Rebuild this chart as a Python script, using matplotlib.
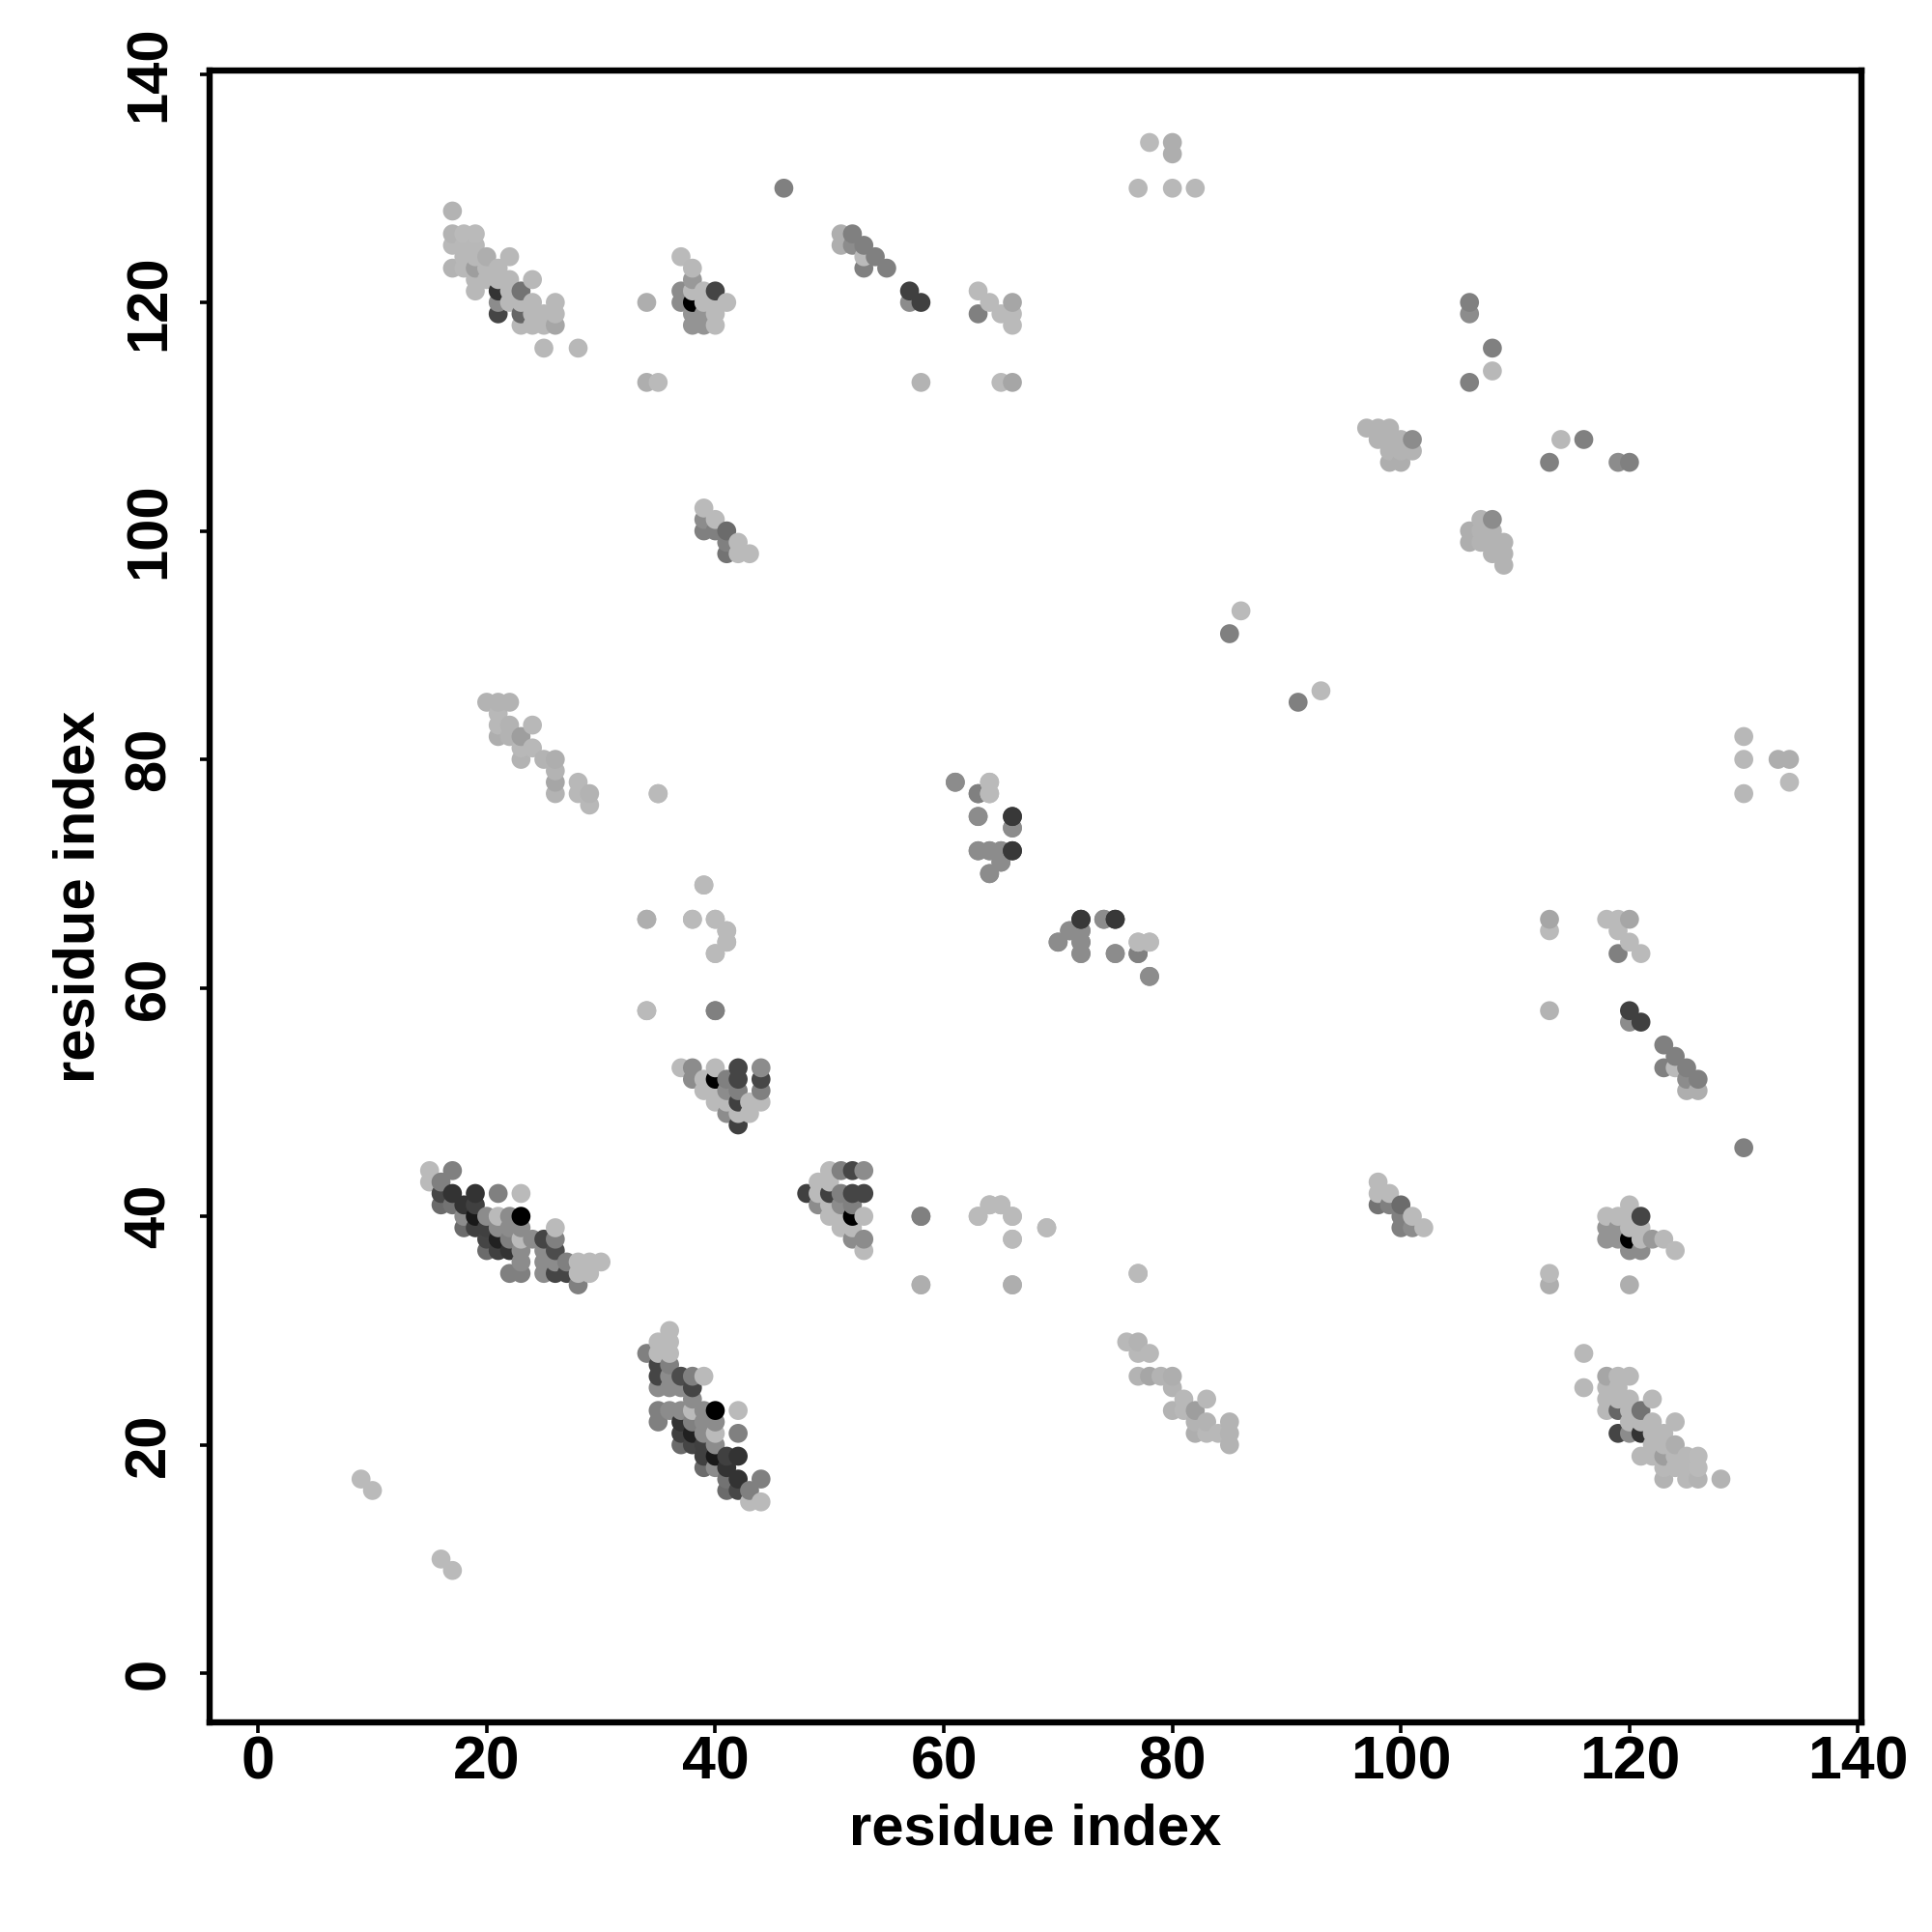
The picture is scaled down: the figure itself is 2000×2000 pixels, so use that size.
import numpy as np
import matplotlib
import matplotlib.pyplot as plt

matplotlib.use('Agg')

# contacts above the diagonal, the map is symmetric so each one is drawn twice
res_i = [
    17, 17, 18, 19, 17, 18, 19, 18, 19, 20, 22, 17, 18, 19, 20, 21, 19, 20, 21, 22, 24,
    19, 21, 22, 23, 21, 22, 23, 24, 26, 21, 23, 24, 25, 26, 23, 24, 25, 26, 25, 28,
    37, 38, 38, 37, 38, 39, 40, 34, 37, 38, 39, 40, 41, 38, 39, 40, 38, 39, 40, 34, 35,
    51, 52, 51, 52, 53, 53, 54, 53, 55, 57, 57, 58, 58,
    63, 64, 66, 63, 65, 66, 66, 65, 66, 46, 78, 80, 80, 77, 80, 82,
    106, 106, 106, 108, 108, 97, 98, 99, 98, 99, 100, 101, 99, 100, 101, 99, 100,
    43, 42, 42, 41, 41, 41, 40, 40, 39, 39, 39,
    20, 21, 22, 21, 21, 22, 24, 21, 22, 23, 23, 24, 23, 25, 26, 26, 26, 28, 26, 28, 29, 29, 35,
    39, 38, 40, 41, 41, 40, 34, 34, 40,
    61, 64, 63, 64, 63, 66, 66, 63, 64, 65, 66, 65, 64,
    72, 74, 75, 71, 72, 70, 72, 77, 78, 72, 75, 77, 78, 85, 86, 9, 10,
    37, 38, 40, 42, 44, 38, 39, 40, 41, 42, 44, 39, 40, 41, 42, 44,
    40, 41, 42, 43, 44, 41, 42, 43, 42,
    15, 17, 15, 16, 16, 17, 19, 21, 23, 16, 17, 18, 19, 18, 19, 20, 21, 22, 23,
    18, 19, 20, 21, 22, 23, 26, 20, 21, 22, 23, 24, 25, 26, 20, 21, 22, 23, 25, 26,
    23, 25, 26, 27, 28, 29, 30, 22, 23, 25, 26, 27, 28, 29, 28,
    58, 58, 63, 64, 65, 66, 66, 69, 66, 77,
]
res_j = [
    128, 126, 126, 126, 125, 125, 125, 124, 124, 124, 124, 123, 123, 123, 123, 123, 122, 122, 122, 122, 122,
    121, 121, 121, 121, 120, 120, 120, 120, 120, 119, 119, 119, 119, 119, 118, 118, 118, 118, 116, 116,
    124, 123, 122, 121, 121, 121, 121, 120, 120, 120, 120, 120, 120, 119, 119, 119, 118, 118, 118, 113, 113,
    126, 126, 125, 125, 125, 124, 124, 123, 123, 121, 120, 120, 113,
    121, 120, 120, 119, 119, 119, 118, 113, 113, 130, 134, 134, 133, 130, 130, 130,
    120, 119, 113, 116, 114, 109, 109, 109, 108, 108, 108, 108, 107, 107, 107, 106, 106,
    98, 98, 99, 98, 99, 100, 100, 101, 100, 101, 102,
    85, 85, 85, 84, 83, 83, 83, 82, 82, 82, 81, 81, 80, 80, 80, 79, 78, 78, 77, 77, 77, 76, 77,
    69, 66, 66, 65, 64, 63, 66, 58, 58,
    78, 78, 77, 77, 75, 75, 74, 72, 72, 72, 72, 71, 70,
    66, 66, 66, 65, 65, 64, 64, 64, 64, 63, 63, 63, 61, 91, 93, 17, 16,
    53, 53, 53, 53, 53, 52, 52, 52, 52, 52, 52, 51, 51, 51, 51, 51,
    50, 50, 50, 50, 50, 49, 49, 49, 48,
    44, 44, 43, 43, 42, 42, 42, 42, 42, 41, 41, 41, 41, 40, 40, 40, 40, 40, 40,
    39, 39, 39, 39, 39, 39, 39, 38, 38, 38, 38, 38, 38, 38, 37, 37, 37, 37, 37, 37,
    36, 36, 36, 36, 36, 36, 36, 35, 35, 35, 35, 35, 35, 35, 34,
    40, 34, 40, 41, 41, 40, 38, 39, 34, 35,
]
shade = [
    .70, .70, .73, .73, .72, .72, .72, .72, .72, .68, .72, .70, .72, .62, .72, .72, .72, .72, .72, .72, .72,
    .72, .20, .72, .45, .55, .72, .72, .72, .72, .27, .40, .72, .72, .72, .72, .72, .72, .65, .72, .72,
    .73, .72, .60, .55, .73, .73, .27, .68, .55, .00, .73, .73, .73, .58, .58, .73, .58, .58, .73, .68, .73,
    .68, .50, .68, .55, .50, .73, .50, .50, .50, .25, .55, .25, .70,
    .73, .73, .65, .50, .73, .73, .73, .73, .65, .50, .73, .68, .68, .72, .72, .72,
    .50, .55, .50, .50, .72, .70, .70, .70, .70, .70, .70, .55, .70, .70, .70, .68, .68,
    .73, .73, .73, .45, .50, .42, .50, .73, .50, .55, .73,
    .70, .70, .70, .72, .72, .70, .72, .68, .70, .62, .72, .72, .70, .70, .68, .70, .65, .72, .70, .72, .70, .72, .73,
    .73, .73, .73, .73, .73, .73, .68, .68, .50,
    .55, .73, .50, .73, .55, .22, .55, .55, .55, .55, .22, .55, .55,
    .22, .55, .22, .55, .55, .55, .55, .73, .73, .55, .55, .50, .55, .50, .73, .73, .73,
    .73, .55, .73, .27, .55, .55, .73, .00, .50, .27, .28, .73, .73, .55, .50, .50,
    .73, .73, .25, .73, .73, .55, .73, .73, .25,
    .73, .50, .73, .50, .28, .20, .20, .50, .73, .42, .45, .20, .25, .55, .10, .55, .73, .55, .00,
    .42, .25, .25, .55, .55, .55, .73, .27, .13, .50, .73, .55, .27, .50, .42, .25, .20, .55, .55, .30,
    .55, .55, .55, .50, .73, .73, .73, .50, .50, .55, .27, .27, .73, .73, .50,
    .50, .73, .73, .73, .73, .73, .73, .73, .68, .73,
]
ticks = [0, 20, 40, 60, 80, 100, 120, 140]

font = 'Liberation Sans'

x = np.array(res_i + res_j)
y = np.array(res_j + res_i)
c = np.array(shade + shade)
order = np.lexsort((y, x))

fig = plt.figure(figsize=(10, 10), dpi=200)
ax = fig.add_axes([217 / 2000, 1 - 1783 / 2000, 1710 / 2000, 1710 / 2000])
ax.scatter(x[order], y[order], s=50, c=c[order], cmap='gray', vmin=0, vmax=1,
           linewidths=0, zorder=3)
ax.set_xlim(-4.25, 140.3)
ax.set_ylim(-4.3, 140.3)

ax.set_xticks(ticks)
ax.set_yticks(ticks)
ax.set_xticklabels(ticks, family=font, weight='bold', fontsize=22.5)
ax.set_yticklabels(ticks, family=font, weight='bold', fontsize=21.5,
                   rotation=90, va='center')
ax.tick_params(axis='x', length=4, width=1.3, pad=0.5)
ax.tick_params(axis='y', length=3.5, width=1.3, pad=9)
for s in ax.spines.values():
    s.set_linewidth(2.3)

ax.set_xlabel('residue index', family=font, weight='bold', fontsize=21.5)
ax.set_ylabel('residue index', family=font, weight='bold', fontsize=21.5)
ax.xaxis.set_label_coords(0.5, -0.065)
ax.yaxis.set_label_coords(-0.079, 0.5)
ax.xaxis.label.set_va('center')
ax.yaxis.label.set_va('center')

fig.savefig('out.png')
